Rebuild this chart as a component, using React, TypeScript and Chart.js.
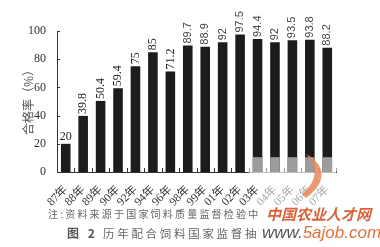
import React, { useEffect, useRef } from "react";
import { Chart, registerables } from "chart.js";

Chart.register(...registerables);

// Survey years and pass rates (%) of compound feed in national spot checks
const years = ["87年", "88年", "89年", "90年", "92年", "94年", "96年", "98年", "99年", "01年", "02年", "03年", "04年", "05年", "06年", "07年"];
const passRates = [20, 39.8, 50.4, 59.4, 75, 85, 71.2, 89.7, 88.9, 92, 97.5, 94.4, 92, 93.5, 93.8, 88.2];
const yTicks = [0, 20, 40, 60, 80, 100];
const yTitle = "合格率（%）";

const SERIF = "'Liberation Serif', 'Noto Sans CJK SC', serif";
const SANS = "'Liberation Sans', Arial, sans-serif";
const CJK = "'Noto Sans CJK SC', sans-serif";

// value labels, inward tick marks, axis title and the faded lower part of the later bars
const barDecorations = {
  id: "barDecorations",
  afterDatasetsDraw(chart: any) {
    const { ctx, chartArea, scales } = chart;
    const x = scales.x;
    const y = scales.y;
    const meta = chart.getDatasetMeta(0);
    ctx.save();

    const y0 = y.getPixelForValue(0);
    const yFade = y.getPixelForValue(10.5);
    meta.data.forEach((bar: any, i: number) => {
      if (i < 11) return;
      const { x: bx, width } = bar.getProps(["x", "width"], true);
      ctx.fillStyle = "#9c9c9c";
      ctx.fillRect(bx - width / 2, yFade, width, y0 - yFade);
    });

    // lighter stretch of the base line under the faded bars
    const fadeStart = x.getPixelForValue(10.5);
    ctx.strokeStyle = "#bdbdbd";
    ctx.lineWidth = 1;
    ctx.beginPath();
    ctx.moveTo(fadeStart, Math.round(y0) + 0.5);
    ctx.lineTo(chartArea.right, Math.round(y0) + 0.5);
    ctx.stroke();

    // tick marks pointing into the plot
    for (let i = 0; i < years.length; i++) {
      const px = Math.round(x.getPixelForValue(i + 0.5)) + 0.5;
      ctx.strokeStyle = i >= 10 ? "#9a9a9a" : "#333";
      ctx.beginPath();
      ctx.moveTo(px, y0);
      ctx.lineTo(px, y0 - 4);
      ctx.stroke();
    }
    ctx.strokeStyle = "#333";
    yTicks.forEach((v) => {
      const py = Math.round(y.getPixelForValue(v)) + 0.5;
      ctx.beginPath();
      ctx.moveTo(chartArea.left, py);
      ctx.lineTo(chartArea.left + 3, py);
      ctx.stroke();
    });

    // y axis title
    ctx.save();
    ctx.translate(28, (chartArea.top + chartArea.bottom) / 2 - 2);
    ctx.rotate(-Math.PI / 2);
    ctx.font = `12px ${CJK}`;
    ctx.fillStyle = "#555";
    ctx.textAlign = "center";
    ctx.textBaseline = "middle";
    ctx.fillText(yTitle, 0, 0);
    ctx.restore();

    // value labels above bars
    meta.data.forEach((bar: any, i: number) => {
      const { x: bx, y: by } = bar.getProps(["x", "y"], true);
      const text = String(passRates[i]);
      if (i === 0) {
        ctx.font = `12px ${SERIF}`;
        ctx.fillStyle = "#222";
        ctx.textAlign = "center";
        ctx.textBaseline = "bottom";
        ctx.fillText(text, bx, by - 1);
        return;
      }
      ctx.save();
      ctx.translate(bx, by - 2);
      ctx.rotate(-Math.PI / 2);
      ctx.font = i < 7 ? `12px ${SERIF}` : `11px ${SANS}`;
      ctx.fillStyle = i < 7 ? "#222" : "#444";
      ctx.textAlign = "left";
      ctx.textBaseline = "middle";
      ctx.fillText(text, 0, 0);
      ctx.restore();
    });

    ctx.restore();
  },
};

export default function App() {
  const canvasRef = useRef<HTMLCanvasElement | null>(null);

  useEffect(() => {
    const canvas = canvasRef.current;
    if (!canvas) return;
    const chart = new Chart(canvas, {
      type: "bar",
      data: {
        labels: years,
        datasets: [
          {
            data: passRates,
            backgroundColor: "#1c1c1c",
            barPercentage: 0.55,
            categoryPercentage: 1,
          },
        ],
      },
      options: {
        responsive: false,
        animation: false,
        devicePixelRatio: 1,
        layout: { padding: { top: 31, right: 44, bottom: 0, left: 0 } },
        plugins: {
          legend: { display: false },
          tooltip: { enabled: false },
        },
        scales: {
          x: {
            offset: true,
            grid: { display: false },
            border: { display: true, color: "#333", width: 1 },
            ticks: {
              autoSkip: false,
              minRotation: 45,
              maxRotation: 45,
              padding: 3,
              font: { family: SERIF, size: 11.5 },
              color: (c: any) => (c.index >= 12 ? "#a8a8a8" : "#333"),
            },
            afterFit: (s: any) => {
              s.height = 75;
            },
          },
          y: {
            min: 0,
            max: 100,
            grid: { display: false },
            border: { display: true, color: "#333", width: 1 },
            ticks: {
              stepSize: 20,
              padding: 3,
              font: { family: SERIF, size: 12 },
              color: "#333",
            },
            afterFit: (s: any) => {
              s.width = 57;
            },
          },
        },
      },
      plugins: [barDecorations],
    } as any);
    return () => chart.destroy();
  }, []);

  return (
    <div style={{ position: "fixed", left: 0, top: 0, width: 380, height: 247, background: "#fff", overflow: "hidden" }}>
      <canvas ref={canvasRef} width={380} height={247} style={{ display: "block", width: 380, height: 247 }} />
      <div style={{ position: "absolute", left: 48, top: 208, font: `10px/12px ${CJK}`, letterSpacing: "2.2px", color: "#666", whiteSpace: "nowrap" }}>
        注:资料来源于国家饲料质量监督检验中
      </div>
      <div style={{ position: "absolute", left: 67, top: 226, font: `bold 12px/14px ${CJK}`, color: "#555", whiteSpace: "nowrap", letterSpacing: "3px" }}>
        图 2
      </div>
      <div style={{ position: "absolute", left: 103, top: 226, font: `11.5px/14px ${CJK}`, letterSpacing: "2.7px", color: "#666", whiteSpace: "nowrap" }}>
        历年配合饲料国家监督抽
      </div>
      <div style={{ position: "absolute", left: 266, top: 205, font: `italic bold 15px/18px ${CJK}`, color: "#d8643c", whiteSpace: "nowrap" }}>
        中国农业人才网
      </div>
      <div style={{ position: "absolute", left: 262, top: 223, font: `italic 17px/20px ${SANS}`, whiteSpace: "nowrap" }}>
        <span style={{ color: "#555" }}>www.</span>
        <span style={{ color: "#e0703f" }}>5ajob.com</span>
      </div>
      <svg width={380} height={247} style={{ position: "absolute", left: 0, top: 0, pointerEvents: "none" }}>
        <path
          d="M306 154 C 322 162, 331 180, 306 198 L 302 194 C 318 181, 318 167, 306 154 Z"
          fill="#e8875a"
          opacity={0.85}
        />
      </svg>
    </div>
  );
}
